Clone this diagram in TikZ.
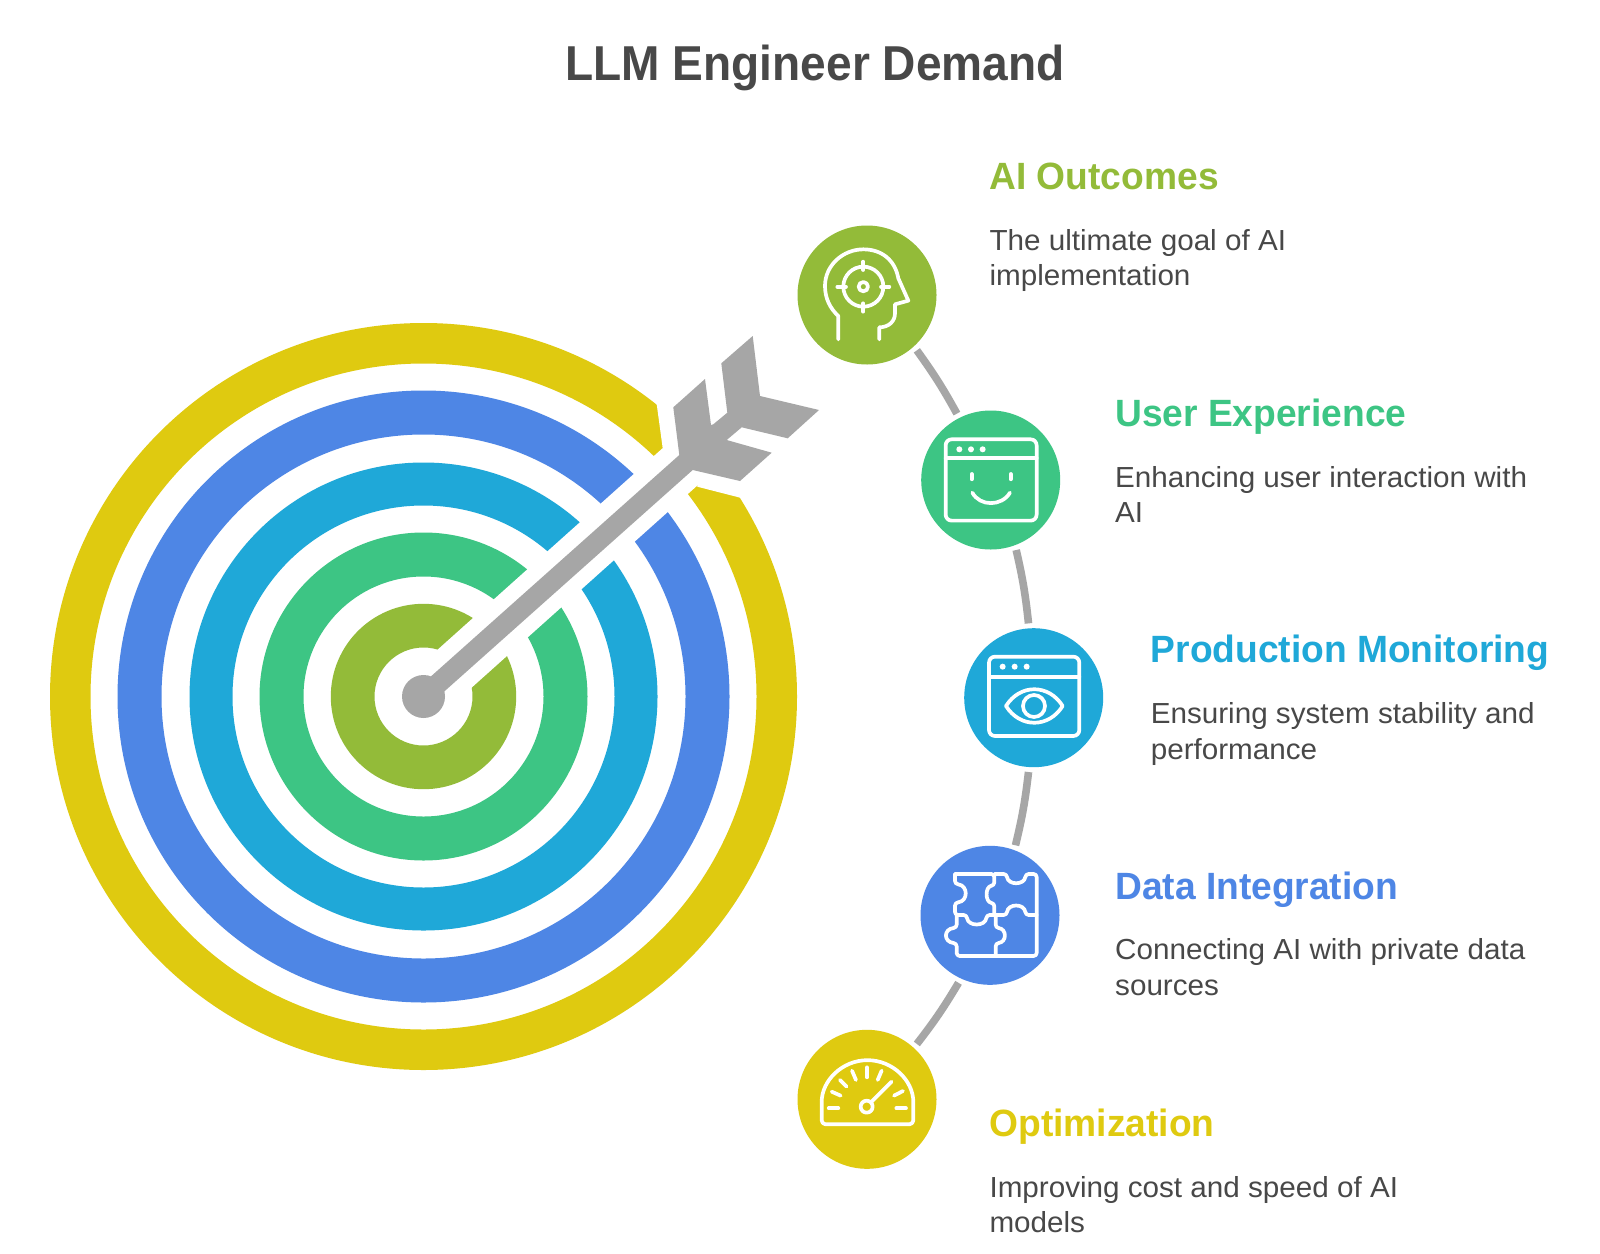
\documentclass[tikz,border=0pt]{standalone}
\usepackage{fontspec}
\setmainfont{Liberation Sans}
\newfontfamily\titlefam[FakeStretch=0.94]{Liberation Sans}
\newfontfamily\headfam[FakeStretch=0.978]{Liberation Sans}
\newfontfamily\descfam[FakeStretch=1.022]{Liberation Sans}
\definecolor{cOlive}{HTML}{93BB39}
\definecolor{cGreen}{HTML}{3DC584}
\definecolor{cCyan}{HTML}{1FA8D8}
\definecolor{cIndigo}{HTML}{4E86E5}
\definecolor{cYellow}{HTML}{DFCA10}
\definecolor{cGray}{HTML}{A6A6A6}
\definecolor{cText}{HTML}{484848}
\tikzset{
  badge/.style={circle,fill=#1,minimum size=139pt,inner sep=0pt,outer sep=5pt},
  link/.style={draw=cGray,line width=7.6pt},
  icon/.style={draw=white,line width=3.7pt,line cap=round,line join=round,fill=none},
  head/.style={anchor=base west,inner sep=0pt,font=\headfam\fontsize{38}{44}\selectfont\bfseries,text=#1},
  desc/.style={anchor=base west,inner sep=0pt,align=left,text=cText,font=\descfam\fontsize{29}{35.6}\selectfont},
  zoomA/.style={shift={(#1)},x=0.3333pt,y=-0.3333pt},
}
\begin{document}
\begin{tikzpicture}[x=1pt,y=-1pt]
\useasboundingbox (0,0) rectangle (1600,1253);
\fill[white] (0,0) rectangle (1600,1253);
\coordinate (ctr) at (423.5,696.5);
% target rings
\foreach \col/\ro/\ri in {cYellow/373.5/333,cIndigo/306/262,cCyan/234/191,cGreen/164/120,cOlive/92.7/49}{
  \fill[\col,even odd rule] (ctr) circle[radius=\ro] (ctr) circle[radius=\ri];
}
% white clearance round the arrow
\coordinate (gapEnd) at (710.3,439.7);
\draw[white,line width=51pt] (ctr) -- (gapEnd);
\fill[white] (662.7,448.3) -- (650,355) -- (730,355) -- (730,470) -- cycle;
\fill[white] (697.3,486.7) -- (800,513) -- (800,440) -- (700,440) -- cycle;
% arrow
\fill[cGray] (ctr) circle[radius=21.5];
\fill[cGray] (416.8,689) -- (679.3,455) -- (673.3,407.3) -- (705,379) -- (711,425) -- (713.3,424.3)
  -- (727.3,412.7) -- (721.3,363.3) -- (752.7,336) -- (760,396) -- (819,410) -- (787.7,438.3)
  -- (741.7,427.3) -- (726.7,440) -- (771.7,452.7) -- (740,481) -- (692.7,470) -- (430.2,704) -- cycle;
% badges
\node[badge=cOlive] (n1) at (867,295) {};
\node[badge=cGreen] (n2) at (990.7,480) {};
\node[badge=cCyan] (n3) at (1033.7,697.7) {};
\node[badge=cIndigo] (n4) at (990,915.3) {};
\node[badge=cYellow] (n5) at (867,1099.3) {};
% connectors
\draw[link] (n1.-48.8) to[bend left=3.5] (n2.117);
\draw[link] (n2.-70.9) to[bend left=3.5] (n3.94.2);
\draw[link] (n3.-94.2) to[bend left=3.5] (n4.70.2);
\draw[link] (n4.-115.2) to[bend left=3.5] (n5.48);
% icon 1: head with crosshair
\begin{scope}[zoomA={780,210}]
\draw[icon] (175,388) -- (175,318) .. controls (150,295) and (135,265) .. (135,228)
  .. controls (135,165) and (190,118) .. (250,118) .. controls (305,118) and (345,150) .. (355,205)
  -- (385,272) -- (345,283) -- (345,310) .. controls (345,335) and (325,352) .. (298,352) -- (298,388);
\draw[icon] (250,230) circle[radius=60];
\draw[icon] (250,230) circle[radius=14];
\draw[icon] (250,155) -- (250,180);
\draw[icon] (250,280) -- (250,305);
\draw[icon] (172,230) -- (198,230);
\draw[icon] (303,230) -- (328,230);
\end{scope}
% icon 2: window with smile
\begin{scope}[zoomA={780,210}]
\draw[icon,rounded corners=6pt] (497,688) rectangle (770,932);
\draw[icon] (497,745) -- (770,745);
\foreach \dx in {538,573,608}{\fill[white] (\dx,718) circle[radius=9];}
\draw[icon] (575,792) -- (575,808);
\draw[icon] (692,792) -- (692,808);
\draw[icon] (577,848) .. controls (600,890) and (665,890) .. (690,848);
\end{scope}
% icon 3: window with eye
\begin{scope}[zoomA={940,610}]
\draw[icon,rounded corners=6pt] (147,140) rectangle (418,378);
\draw[icon] (147,200) -- (418,200);
\foreach \dx in {188,224,260}{\fill[white] (\dx,170) circle[radius=9];}
\draw[icon] (198,288) .. controls (240,221) and (326,221) .. (368,288) .. controls (326,355) and (240,355) .. cycle;
\draw[icon] (282,288) circle[radius=33];
\end{scope}
% icon 4: puzzle
\begin{scope}[zoomA={935,860}]
\draw[icon,rounded corners=3pt] (60,42) -- (178,42) -- (178,76)
  .. controls (150,80) and (150,126) .. (178,130) -- (178,165);
\draw[icon,rounded corners=3pt] (60,42) -- (60,72) .. controls (100,76) and (100,124) .. (60,128) -- (60,165)
  -- (95,165) .. controls (99,200) and (151,200) .. (155,165) -- (215,165)
  .. controls (219,130) and (268,130) .. (272,165) -- (305,165);
\draw[icon,rounded corners=3pt] (178,42) -- (215,42) .. controls (219,76) and (268,76) .. (272,42) -- (305,42) -- (305,288) -- (65,288) -- (65,250)
  .. controls (25,246) and (25,207) .. (65,203) -- (65,165);
\draw[icon,rounded corners=3pt] (182,165) -- (182,203) .. controls (216,207) and (216,246) .. (182,250) -- (182,288);
\end{scope}
% icon 5: gauge
\begin{scope}[zoomA={780,1020}]
\draw[icon,rounded corners=4pt] (125,313) -- (400,313) -- (400,258) arc[start angle=0,end angle=-180,radius=137.5] -- cycle;
\draw[icon] (146,265) -- (175,265);
\draw[icon] (349,265) -- (378,265);
\draw[icon] (155,215) -- (182,227);
\draw[icon] (180,180) -- (200,200);
\draw[icon] (216,152) -- (228,180);
\draw[icon] (261,142) -- (261,172);
\draw[icon] (305,152) -- (293,180);
\draw[icon] (342,227) -- (369,213);
\draw[icon] (260,260) circle[radius=18];
\draw[icon] (275,245) -- (335,185);
\end{scope}
% text (desc nodes are anchored on the baseline of their last line)
\node[anchor=base,inner sep=0pt,text=cText,font=\titlefam\fontsize{49}{58}\selectfont\bfseries] (title) at (815,80.5) {LLM Engineer Demand};
\node[head=cOlive] (h1) at (989.3,189) {AI Outcomes};
\node[desc] (d1) at (989.3,285.7) {The ultimate goal of AI\\implementation};
\node[head=cGreen] (h2) at (1115,426.2) {User Experience};
\node[desc] (d2) at (1115,522.9) {Enhancing user interaction with\\AI};
\node[head=cCyan] (h3) at (1150.6,662.8) {Production Monitoring};
\node[desc] (d3) at (1150.6,759.5) {Ensuring system stability and\\performance};
\node[head=cIndigo] (h4) at (1115,899.5) {Data Integration};
\node[desc] (d4) at (1115,995.5) {Connecting AI with private data\\sources};
\node[head=cYellow] (h5) at (989.3,1136.5) {Optimization};
\node[desc] (d5) at (989.3,1232.7) {Improving cost and speed of AI\\models};
\end{tikzpicture}
\end{document}
